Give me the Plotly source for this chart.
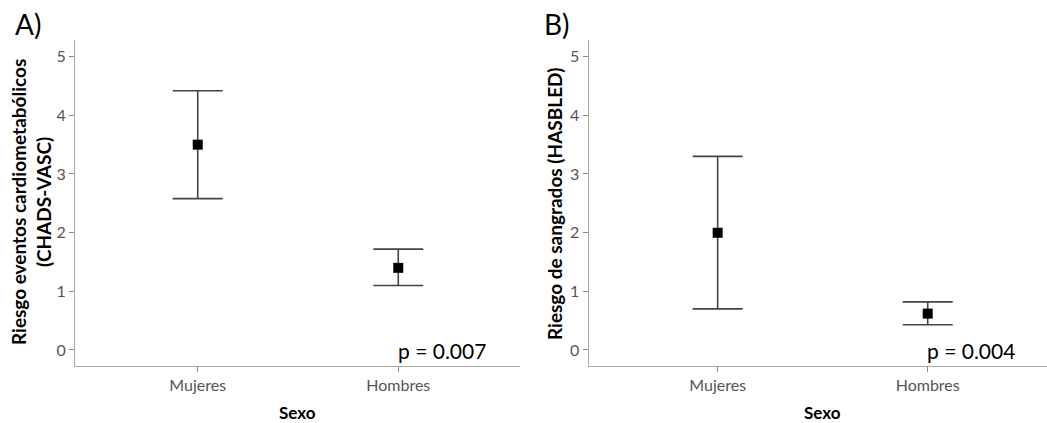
import plotly.graph_objects as go

categories = ["Mujeres", "Hombres"]

# Panel A: CHADS-VASC
a_mean = [3.50, 1.40]
a_upper = [4.42, 1.72]
a_lower = [2.58, 1.10]

# Panel B: HASBLED
b_mean = [2.00, 0.62]
b_upper = [3.30, 0.82]
b_lower = [0.70, 0.43]

y_ticks = [0, 1, 2, 3, 4, 5]

W, H = 1047, 423
FONT = "Lato"

fig = go.Figure()


def add_panel(means, up, lo, xa, ya):
    fig.add_trace(go.Scatter(
        x=[0, 1], y=means, mode="markers",
        marker=dict(symbol="square", size=10, color="black"),
        error_y=dict(type="data", symmetric=False,
                     array=[u - m for u, m in zip(up, means)],
                     arrayminus=[m - l for m, l in zip(means, lo)],
                     width=25, thickness=1.6, color="#444444"),
        xaxis=xa, yaxis=ya, showlegend=False, hoverinfo="skip"))


add_panel(a_mean, a_upper, a_lower, "x", "y")
add_panel(b_mean, b_upper, b_lower, "x2", "y2")

ydom = [(H - 366) / H, (H - 40) / H]
yrange = [-0.273, 5.284]

axis_common = dict(
    showline=True, linecolor="#aaaaaa", linewidth=1.2,
    ticks="outside", ticklen=5, tickcolor="#888888", tickwidth=1.2,
    showgrid=False, zeroline=False,
    tickfont=dict(family=FONT, size=16, color="#555555"),
)

fig.update_layout(
    width=W, height=H,
    margin=dict(l=0, r=0, t=0, b=0),
    paper_bgcolor="white", plot_bgcolor="white",
    font=dict(family=FONT),
    xaxis=dict(domain=[75 / W, 520 / W], range=[-0.612, 1.607],
               tickvals=[0, 1], ticktext=categories, anchor="y",
               **axis_common),
    yaxis=dict(domain=ydom, range=yrange, tickvals=y_ticks, anchor="x",
               **axis_common),
    xaxis2=dict(domain=[588.7 / W, 1.0], range=[-0.614, 1.568],
                tickvals=[0, 1], ticktext=categories, anchor="y2",
                **axis_common),
    yaxis2=dict(domain=ydom, range=yrange, tickvals=y_ticks, anchor="x2",
                **axis_common),
)

ann = []
# panel letters
ann.append(dict(text="A)", x=13 / W, y=1 - 24 / H, xref="paper", yref="paper",
                xanchor="left", yanchor="middle", showarrow=False,
                font=dict(family=FONT, size=28, color="black")))
ann.append(dict(text="B)", x=542 / W, y=1 - 24 / H, xref="paper", yref="paper",
                xanchor="left", yanchor="middle", showarrow=False,
                font=dict(family=FONT, size=28, color="black")))
# p-values
ann.append(dict(text="p = 0.007", x=396 / W, y=1 - 350 / H, xref="paper", yref="paper",
                xanchor="left", yanchor="middle", showarrow=False,
                font=dict(family=FONT, size=21, color="black")))
ann.append(dict(text="p = 0.004", x=925 / W, y=1 - 350 / H, xref="paper", yref="paper",
                xanchor="left", yanchor="middle", showarrow=False,
                font=dict(family=FONT, size=21, color="black")))
# x titles
ann.append(dict(text="<b>Sexo</b>", x=297.5 / W, y=1 - 412 / H, xref="paper", yref="paper",
                xanchor="center", yanchor="middle", showarrow=False,
                font=dict(family=FONT, size=17, color="black")))
ann.append(dict(text="<b>Sexo</b>", x=822 / W, y=1 - 412 / H, xref="paper", yref="paper",
                xanchor="center", yanchor="middle", showarrow=False,
                font=dict(family=FONT, size=17, color="black")))
# y titles
ann.append(dict(text="<b>Riesgo eventos cardiometabólicos<br>(CHADS-VASC)</b>",
                x=31 / W, y=1 - 202 / H, xref="paper", yref="paper",
                xanchor="center", yanchor="middle", showarrow=False, textangle=-90,
                font=dict(family=FONT, size=19, color="black")))
ann.append(dict(text="<b>Riesgo de sangrados (HASBLED)</b>",
                x=554 / W, y=1 - 204 / H, xref="paper", yref="paper",
                xanchor="center", yanchor="middle", showarrow=False, textangle=-90,
                font=dict(family=FONT, size=19, color="black")))

fig.update_layout(annotations=ann)

fig.write_html("out.html", config={"displayModeBar": False},
               post_script="document.body.style.margin='0';")
